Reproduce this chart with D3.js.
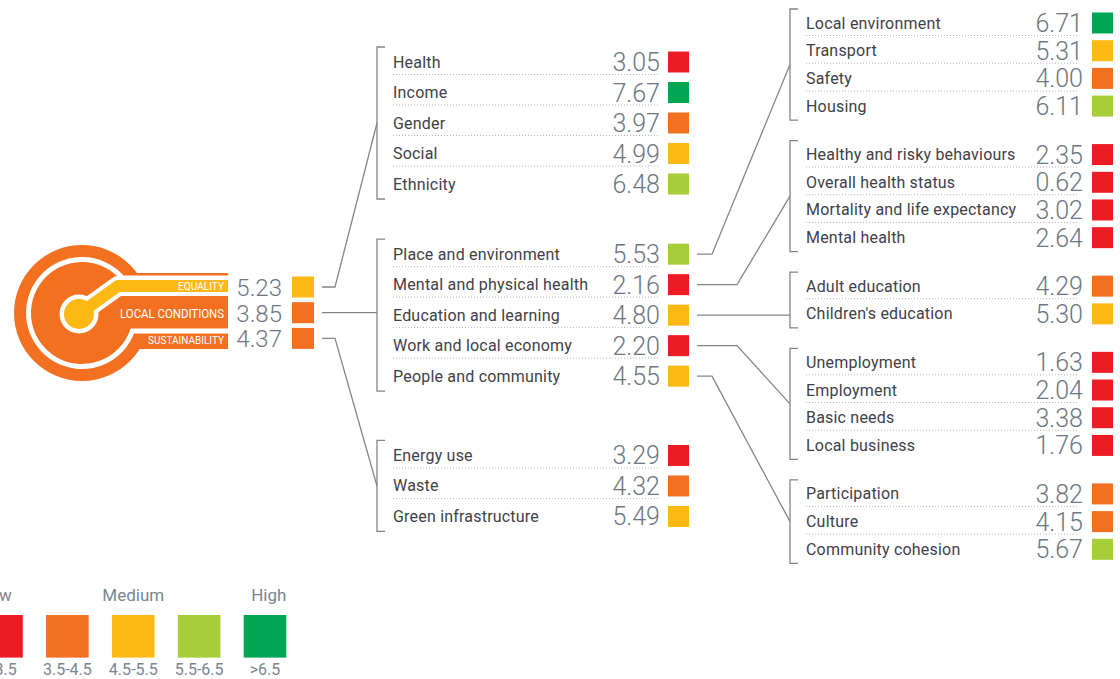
<!DOCTYPE html>
<html>
<head>
<meta charset="utf-8">
<script src="https://cdn.jsdelivr.net/npm/d3@7"></script>
<style>
  body { margin: 0; background: #fff; }
  svg { display: block; font-family: Roboto, "Noto Sans", sans-serif; }
</style>
</head>
<body>
<div id="chart"></div>
<script>
// top level domains
const topLabels = ["EQUALITY", "LOCAL CONDITIONS", "SUSTAINABILITY"];
const topValues = [5.23, 3.85, 4.37];

// second level
const equalityLabels = ["Health", "Income", "Gender", "Social", "Ethnicity"];
const equalityValues = [3.05, 7.67, 3.97, 4.99, 6.48];
const localLabels = ["Place and environment", "Mental and physical health", "Education and learning", "Work and local economy", "People and community"];
const localValues = [5.53, 2.16, 4.80, 2.20, 4.55];
const sustainLabels = ["Energy use", "Waste", "Green infrastructure"];
const sustainValues = [3.29, 4.32, 5.49];

// third level (children of local conditions)
const placeLabels = ["Local environment", "Transport", "Safety", "Housing"];
const placeValues = [6.71, 5.31, 4.00, 6.11];
const healthLabels = ["Healthy and risky behaviours", "Overall health status", "Mortality and life expectancy", "Mental health"];
const healthValues = [2.35, 0.62, 3.02, 2.64];
const educationLabels = ["Adult education", "Children's education"];
const educationValues = [4.29, 5.30];
const workLabels = ["Unemployment", "Employment", "Basic needs", "Local business"];
const workValues = [1.63, 2.04, 3.38, 1.76];
const peopleLabels = ["Participation", "Culture", "Community cohesion"];
const peopleValues = [3.82, 4.15, 5.67];

// legend
const legendTitles = ["Low", "Medium", "High"];
const bandLabels = ["<3.5", "3.5-4.5", "4.5-5.5", "5.5-6.5", ">6.5"];
const bandThresholds = [3.5, 4.5, 5.5, 6.5];
const bandColors = ["#ed1c24", "#f37021", "#fdb913", "#a6ce39", "#00a651"];

const width = 1120, height = 679;
const labelColor = "#3f4049", valueColor = "#6d7681", lineColor = "#858585";

const svg = d3.select('#chart').append('svg')
  .attr('width', width)
  .attr('height', height);

const color = d3.scaleThreshold().domain(bandThresholds).range(bandColors);
const fmt = d3.format('.2f');

// slot index of every row: one slot per row, a gap between groups
function slots(groups, gaps) {
  let s = 0;
  return groups.map((g, gi) => {
    if (gi > 0) s += gaps[gi - 1];
    const out = g.labels.map((_, i) => s + i);
    s += g.labels.length - 1;
    return out;
  });
}

const level2 = [
  { labels: equalityLabels, values: equalityValues },
  { labels: localLabels, values: localValues },
  { labels: sustainLabels, values: sustainValues }
];
const level3 = [
  { labels: placeLabels, values: placeValues },
  { labels: healthLabels, values: healthValues },
  { labels: educationLabels, values: educationValues },
  { labels: workLabels, values: workValues },
  { labels: peopleLabels, values: peopleValues }
];

const y1 = d3.scaleLinear().domain([0, 1]).range([287, 312.7]);
const y2 = d3.scaleLinear().domain([0, 1]).range([62, 92.5]);
const y3 = d3.scaleLinear().domain([0, 1]).range([23, 50.7]);

const col2 = { y: y2, slots: slots(level2, [2.3, 2.6]), labelX: 393, valueX: 660, boxX: 668, bracketX: 377, pad: 15, dotEnd: 660 };
const col3 = { y: y3, slots: slots(level3, [1.75, 1.75, 1.75, 1.75]), labelX: 806, valueX: 1083, boxX: 1092, bracketX: 790, pad: 14, dotEnd: 1079 };

// draws one column of grouped rows, returns bracket extents per group
function drawColumn(groups, c) {
  const g = svg.append('g');
  return groups.map((grp, gi) => {
    const ys = c.slots[gi].map(s => c.y(s));
    const rows = g.selectAll(null).data(grp.labels.map((l, i) => ({ label: l, value: grp.values[i], y: ys[i], last: i === grp.labels.length - 1 })))
      .enter().append('g');

    rows.append('text')
      .attr('x', c.labelX).attr('y', d => d.y + 5.5)
      .attr('font-size', 16).attr('letter-spacing', 0.2)
      .attr('fill', labelColor)
      .text(d => d.label);

    rows.append('text')
      .attr('x', c.valueX).attr('y', d => d.y + 9)
      .attr('text-anchor', 'end')
      .attr('font-size', 25).attr('font-weight', 300)
      .attr('fill', valueColor)
      .text(d => fmt(d.value));

    rows.append('rect')
      .attr('x', c.boxX).attr('y', d => d.y - 10.5)
      .attr('width', 21).attr('height', 21)
      .attr('fill', d => color(d.value));

    rows.filter(d => !d.last).append('line')
      .attr('x1', c.labelX).attr('x2', c.dotEnd)
      .attr('y1', d => d.y + 12.5).attr('y2', d => d.y + 12.5)
      .attr('stroke', '#b4b4b4').attr('stroke-width', 1)
      .attr('stroke-dasharray', '1,2');

    const top = ys[0] - c.pad, bottom = ys[ys.length - 1] + c.pad;
    g.append('path')
      .attr('d', `M${c.bracketX + 8},${top}H${c.bracketX}V${bottom}H${c.bracketX + 8}`)
      .attr('fill', 'none').attr('stroke', lineColor).attr('stroke-width', 1.3);
    return { top, bottom, ys };
  });
}

const ext2 = drawColumn(level2, col2);
const ext3 = drawColumn(level3, col3);

// connector from a row to a bracket
function connect(x0, y0, bracketX, ext, elbowX) {
  let d;
  if (y0 >= ext.top && y0 <= ext.bottom) {
    d = `M${x0},${y0}H${bracketX}`;
  } else {
    const mid = (ext.top + ext.bottom) / 2;
    d = `M${x0},${y0}H${elbowX}L${bracketX},${mid}`;
  }
  svg.append('path').attr('d', d)
    .attr('fill', 'none').attr('stroke', lineColor).attr('stroke-width', 1.3);
}

// level 1 -> level 2
topValues.forEach((v, i) => connect(322, y1(i), col2.bracketX, ext2[i], 335));
// level 2 (local conditions) -> level 3
ext2[1].ys.forEach((yy, i) => {
  const ext = ext3[i];
  const dy = Math.abs((ext.top + ext.bottom) / 2 - yy);
  connect(697, yy, col3.bracketX, ext, col3.bracketX - (dy > 120 ? 78 : 53));
});

// ---- logo ----
const logo = svg.append('g');
const cx = 82, cy = 313, orange = bandColors[1], yellow = bandColors[2];
logo.append('circle').attr('cx', cx).attr('cy', cy).attr('r', 68).attr('fill', orange);
logo.append('rect').attr('x', cx).attr('y', 273).attr('width', 228 - cx).attr('height', 76).attr('fill', orange);

const ringR = 53.5, ringTop = 278, ringBot = 331;
const xa = cx + Math.sqrt(ringR * ringR - (ringTop - cy) ** 2);
const xb = cx + Math.sqrt(ringR * ringR - (ringBot - cy) ** 2);
logo.append('path')
  .attr('d', `M228,${ringTop}H${xa}A${ringR},${ringR} 0 1 0 ${xb},${ringBot}H228`)
  .attr('fill', 'none').attr('stroke', '#fff').attr('stroke-width', 5);

const stem = `M79,314L118,286H228`;
logo.append('path').attr('d', stem).attr('fill', 'none').attr('stroke', '#fff').attr('stroke-width', 20).attr('stroke-linejoin', 'round');
logo.append('circle').attr('cx', 79).attr('cy', 314).attr('r', 19.5).attr('fill', '#fff');
logo.append('path').attr('d', stem).attr('fill', 'none').attr('stroke', yellow).attr('stroke-width', 12).attr('stroke-linejoin', 'round');
logo.append('circle').attr('cx', 79).attr('cy', 314).attr('r', 15).attr('fill', yellow);

const logoText = [
  { size: 10.5, len: 46, base: 290 },
  { size: 13, len: 104, base: 317.5 },
  { size: 10.5, len: 76, base: 343.5 }
];
logo.selectAll(null).data(topLabels).enter().append('text')
  .attr('x', 224).attr('y', (d, i) => logoText[i].base)
  .attr('text-anchor', 'end')
  .attr('font-size', (d, i) => logoText[i].size)
  .attr('textLength', (d, i) => logoText[i].len)
  .attr('lengthAdjust', 'spacingAndGlyphs')
  .attr('fill', '#fff')
  .text(d => d);

// level 1 values and boxes
const top1 = svg.append('g').selectAll(null).data(topValues).enter().append('g');
top1.append('text')
  .attr('x', 282).attr('y', (d, i) => y1(i) + 9)
  .attr('text-anchor', 'end')
  .attr('font-size', 24).attr('font-weight', 300)
  .attr('fill', valueColor)
  .text(d => fmt(d));
top1.append('rect')
  .attr('x', 292).attr('y', (d, i) => y1(i) - 10.5)
  .attr('width', 22).attr('height', 21)
  .attr('fill', d => color(d));

// ---- legend ----
const lx = d3.scalePoint().domain(bandLabels).range([1.5, 265]);
const boxW = 42.6;
const legend = svg.append('g');
legend.selectAll('rect').data(bandLabels).enter().append('rect')
  .attr('x', d => lx(d) - boxW / 2).attr('y', 615)
  .attr('width', boxW).attr('height', boxW)
  .attr('fill', (d, i) => bandColors[i]);
legend.selectAll('.band').data(bandLabels).enter().append('text')
  .attr('class', 'band')
  .attr('x', d => lx(d)).attr('y', 675)
  .attr('text-anchor', 'middle')
  .attr('font-size', 16).attr('fill', '#7b8590')
  .text(d => d);
const first = bandLabels[0], mid = bandLabels[2], last = bandLabels[bandLabels.length - 1];
legend.selectAll('.title').data(legendTitles).enter().append('text')
  .attr('class', 'title')
  .attr('x', (d, i) => i === 0 ? lx(first) - boxW / 2 : i === 1 ? lx(mid) : lx(last) + boxW / 2)
  .attr('y', 601)
  .attr('text-anchor', (d, i) => ['start', 'middle', 'end'][i])
  .attr('font-size', 17).attr('fill', '#7b8590')
  .text(d => d);
</script>
</body>
</html>
